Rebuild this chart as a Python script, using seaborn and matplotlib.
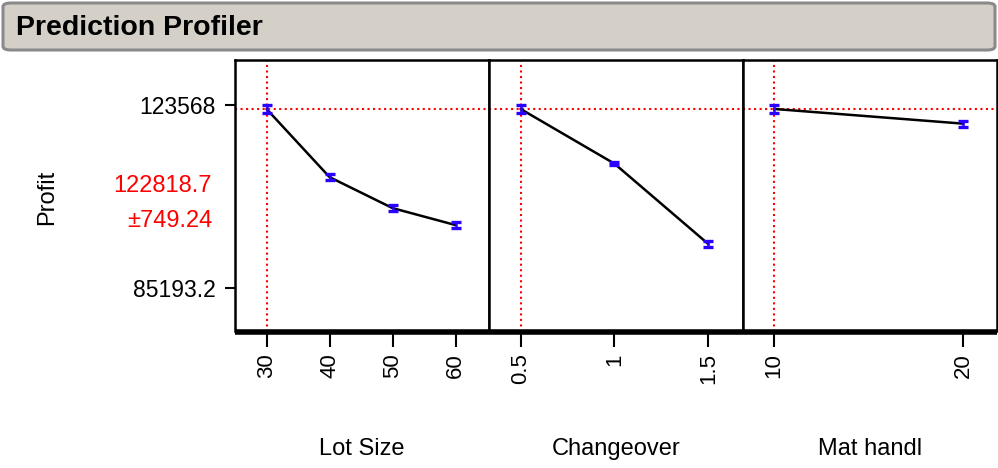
import numpy as np
import pandas as pd
import matplotlib.pyplot as plt
import seaborn as sns
from matplotlib.patches import FancyBboxPatch

lot_size = [30, 40, 50, 60]
lot_profit = [122818.7, 108530, 102030, 98470]
lot_err = [749.24, 665, 630, 665]

changeover = [0.5, 1.0, 1.5]
change_profit = [122818.7, 111340, 94480]
change_err = [749.24, 315, 665]

mat_handl = [10, 20]
mat_profit = [122818.7, 119730]
mat_err = [749.24, 595]

current = {'Lot Size': 30, 'Changeover': 0.5, 'Mat handl': 10}
pred_value = 122818.7
pred_ci = 749.24
y_ticks = [85193.2, 123568]
y_ticklabels = ['85193.2', '123568']

sns.set_style('white')
plt.rcParams['font.family'] = ['Liberation Sans', 'DejaVu Sans']
plt.rcParams['text.color'] = 'black'
plt.rcParams['xtick.color'] = 'black'
plt.rcParams['ytick.color'] = 'black'
plt.rcParams['axes.labelcolor'] = 'black'

fig = plt.figure(figsize=(9.98, 4.68), dpi=100)

# title bar
bar = FancyBboxPatch((3 / 998, 1 - 50 / 468), 992 / 998, 47 / 468,
                     boxstyle='round,pad=0,rounding_size=0.008',
                     transform=fig.transFigure, facecolor='#d4d0c8',
                     edgecolor='#8a8a8a', lw=2.2)
fig.patches.append(bar)
fig.text(16 / 998, 1 - 28 / 468, 'Prediction Profiler', fontsize=20.5,
         fontweight='bold', va='center', ha='left', color='black')

panels = [
    ('Lot Size', lot_size, lot_profit, lot_err, (25.0, 65.3), ['30', '40', '50', '60']),
    ('Changeover', changeover, change_profit, change_err, (0.332, 1.684), ['0.5', '1', '1.5']),
    ('Mat handl', mat_handl, mat_profit, mat_err, (8.36, 21.77), ['10', '20']),
]

left0 = 235 / 998
pw = 254 / 998
bottom = (468 - 331.5) / 468
height = (331.5 - 60) / 468
ylim = (76160, 133080)

for i, (name, xs, ys, errs, xlim, labels) in enumerate(panels):
    ax = fig.add_axes([left0 + i * pw, bottom, pw, height])
    df = pd.DataFrame({name: xs, 'Profit': ys})
    sns.lineplot(data=df, x=name, y='Profit', ax=ax, color='black', lw=1.8)
    ax.errorbar(xs, ys, yerr=errs, fmt='none', ecolor='#2a00ff',
                elinewidth=1.8, capsize=3.6, capthick=2.4, zorder=4)
    ax.axhline(pred_value, color='red', ls=':', lw=1.5, zorder=1)
    ax.axvline(current[name], color='red', ls=':', lw=1.5, zorder=1)
    ax.set_xlim(xlim)
    ax.set_ylim(ylim)
    ax.set_xticks(xs)
    ax.set_xticklabels(labels, rotation=90, fontsize=16)
    ax.tick_params(axis='x', direction='out', length=10.5, width=1.5,
                   bottom=True, pad=5, colors='black')
    ax.set_xlabel('')
    ax.set_ylabel('')
    if i == 0:
        ax.set_yticks(y_ticks)
        ax.set_yticklabels(y_ticklabels, fontsize=16.5)
        ax.tick_params(axis='y', direction='out', length=7, width=1.5,
                       left=True, pad=7, colors='black')
    else:
        ax.set_yticks([])
    for side in ['top', 'left', 'right']:
        ax.spines[side].set_color('black')
        ax.spines[side].set_linewidth(1.8)
    ax.spines['bottom'].set_color('black')
    ax.spines['bottom'].set_linewidth(4)
    ax.spines['bottom'].set_capstyle('butt')
    fig.text(left0 + (i + 0.5) * pw, 1 - 449 / 468, name, fontsize=17,
             ha='center', va='center')

fig.text(47 / 998, 1 - 197 / 468, 'Profit', rotation=90, fontsize=17,
         ha='center', va='center')
fig.text(212 / 998, 1 - 186 / 468, f'{pred_value:.1f}', color='red',
         fontsize=17, ha='right', va='center')
fig.text(212 / 998, 1 - 221 / 468, f'±{pred_ci:.2f}', color='red',
         fontsize=17, ha='right', va='center')

fig.savefig('out.png', dpi=100)
